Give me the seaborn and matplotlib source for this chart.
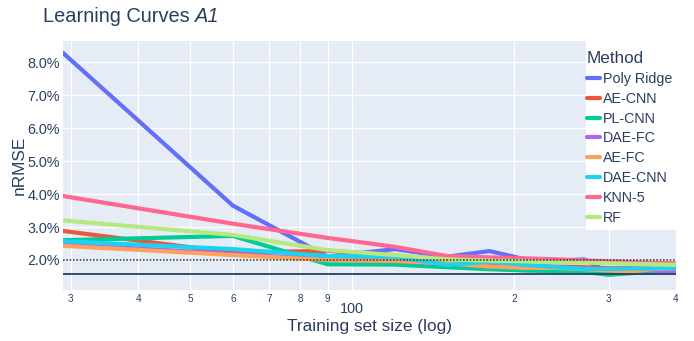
import matplotlib
matplotlib.use("Agg")
import pandas as pd
import matplotlib.pyplot as plt
import seaborn as sns
from matplotlib.patches import Rectangle
from matplotlib.ticker import FixedLocator, FixedFormatter, NullLocator, FuncFormatter

# data (nRMSE in %)
sizes = [29, 60, 90, 120, 150, 180, 210, 240, 270, 300, 330, 360, 400]
methods = ["Poly Ridge", "AE-CNN", "PL-CNN", "DAE-FC", "AE-FC", "DAE-CNN", "KNN-5", "RF"]
poly_ridge = [8.28, 3.65, 2.10, 2.33, 2.10, 2.27, 2.02, 1.97, 2.02, 1.62, 1.66, 1.70, 1.75]
ae_cnn = [2.88, 2.22, 2.28, 2.15, 1.90, 1.85, 1.82, 1.80, 1.78, 1.75, 1.75, 1.74, 1.75]
pl_cnn = [2.60, 2.73, 1.87, 1.86, 1.78, 1.72, 1.68, 1.66, 1.64, 1.55, 1.60, 1.63, 1.65]
dae_fc = [2.48, 2.18, 2.02, 1.98, 1.88, 1.85, 1.82, 1.78, 1.75, 1.70, 1.70, 1.68, 1.65]
ae_fc = [2.43, 2.15, 2.00, 1.97, 1.90, 1.80, 1.76, 1.76, 1.72, 1.68, 1.65, 1.72, 1.75]
dae_cnn = [2.57, 2.33, 2.12, 2.10, 1.85, 1.95, 1.85, 1.78, 1.73, 1.73, 1.74, 1.74, 1.75]
knn_5 = [3.94, 3.10, 2.67, 2.40, 2.12, 2.08, 2.05, 2.02, 1.99, 1.96, 1.93, 1.92, 1.90]
rf = [3.20, 2.76, 2.30, 2.15, 2.02, 1.98, 1.96, 1.93, 1.92, 1.90, 1.88, 1.87, 1.85]
ref_dotted = 2.0
ref_solid = 1.57

colors = ["#636efa", "#EF553B", "#00cc96", "#ab63fa", "#FFA15A", "#19d3f3", "#FF6692", "#B6E880"]
x_ticks = [30, 40, 50, 60, 70, 80, 90, 100, 200, 300, 400]
x_labels = ["3", "4", "5", "6", "7", "8", "9", "100", "2", "3", "4"]
y_ticks = [2, 3, 4, 5, 6, 7, 8]

series = [poly_ridge, ae_cnn, pl_cnn, dae_fc, ae_fc, dae_cnn, knn_5, rf]
df = pd.DataFrame({
    "size": sizes * len(methods),
    "nrmse": [v for s in series for v in s],
    "Method": [m for m in methods for _ in sizes],
})

txt = "#2a3f5f"
sns.set_theme(style="darkgrid", rc={"axes.facecolor": "#E5ECF6", "grid.color": "white",
                                    "grid.linewidth": 0.9})
plt.rcParams["font.family"] = ["Liberation Sans", "DejaVu Sans"]
plt.rcParams["text.color"] = txt
plt.rcParams["axes.labelcolor"] = txt
plt.rcParams["xtick.color"] = txt
plt.rcParams["ytick.color"] = txt

fig = plt.figure(figsize=(6.94, 3.41), dpi=100)
ax = fig.add_axes([63 / 694, 1 - 290 / 341, 613 / 694, 249 / 341])

sns.lineplot(data=df, x="size", y="nrmse", hue="Method", palette=colors,
             linewidth=3, ax=ax)

ax.axhline(ref_dotted, color="#444444", linestyle=(0, (1, 1)), linewidth=1.2, zorder=4)
ax.axhline(ref_solid, color=txt, linewidth=1.3, zorder=4)

ax.set_xscale("log")
ax.set_xlim(29, 400)
ax.set_ylim(1.09, 8.64)
ax.xaxis.set_major_locator(FixedLocator(x_ticks))
ax.xaxis.set_major_formatter(FixedFormatter(x_labels))
ax.xaxis.set_minor_locator(NullLocator())
ax.set_yticks(y_ticks)
ax.yaxis.set_major_formatter(FuncFormatter(lambda v, p: f"{v:.1f}%"))
ax.tick_params(axis="both", length=0)
ax.tick_params(axis="y", labelsize=10.4, pad=2)
for sp in ax.spines.values():
    sp.set_visible(False)

fig.canvas.draw()
for tick, lab in zip(ax.xaxis.get_major_ticks(), x_labels):
    if lab == "100":
        tick.label1.set_fontsize(10.4)
        tick.set_pad(8.5)
    else:
        tick.label1.set_fontsize(7.2)
        tick.set_pad(3)

ax.set_xlabel("Training set size (log)", fontsize=12.4)
ax.set_ylabel("nRMSE", fontsize=12.4)
ax.xaxis.set_label_coords(0.5, -0.145)
ax.yaxis.set_label_coords(-0.072, 0.5)
ax.xaxis.label.set_va("center")
ax.yaxis.label.set_va("center")

# white legend panel over the plot corner
ax.add_patch(Rectangle((586 / 694, 1 - 230 / 341), 108 / 694, 189 / 341,
                       transform=fig.transFigure, facecolor="white", edgecolor="none",
                       zorder=4.5, clip_on=False))
leg = ax.legend(title="Method", loc="upper left", bbox_to_anchor=(587 / 694, 1 - 51 / 341),
                bbox_transform=fig.transFigure, frameon=False, fontsize=10.3,
                title_fontsize=12.3, handlelength=0.9, handletextpad=0.2,
                labelspacing=0.41, borderpad=0, borderaxespad=0, alignment="left")
leg.set_zorder(6)
for line in leg.get_lines():
    line.set_linewidth(3)

t1 = fig.text(43 / 694, 1 - 22.5 / 341, "Learning Curves ", fontsize=14.4, va="baseline")
fig.canvas.draw()
bb = t1.get_window_extent().transformed(fig.transFigure.inverted())
fig.text(bb.x1, 1 - 22.5 / 341, "A1", fontsize=14.4, va="baseline", style="italic")

plt.savefig("out.png", dpi=100)
